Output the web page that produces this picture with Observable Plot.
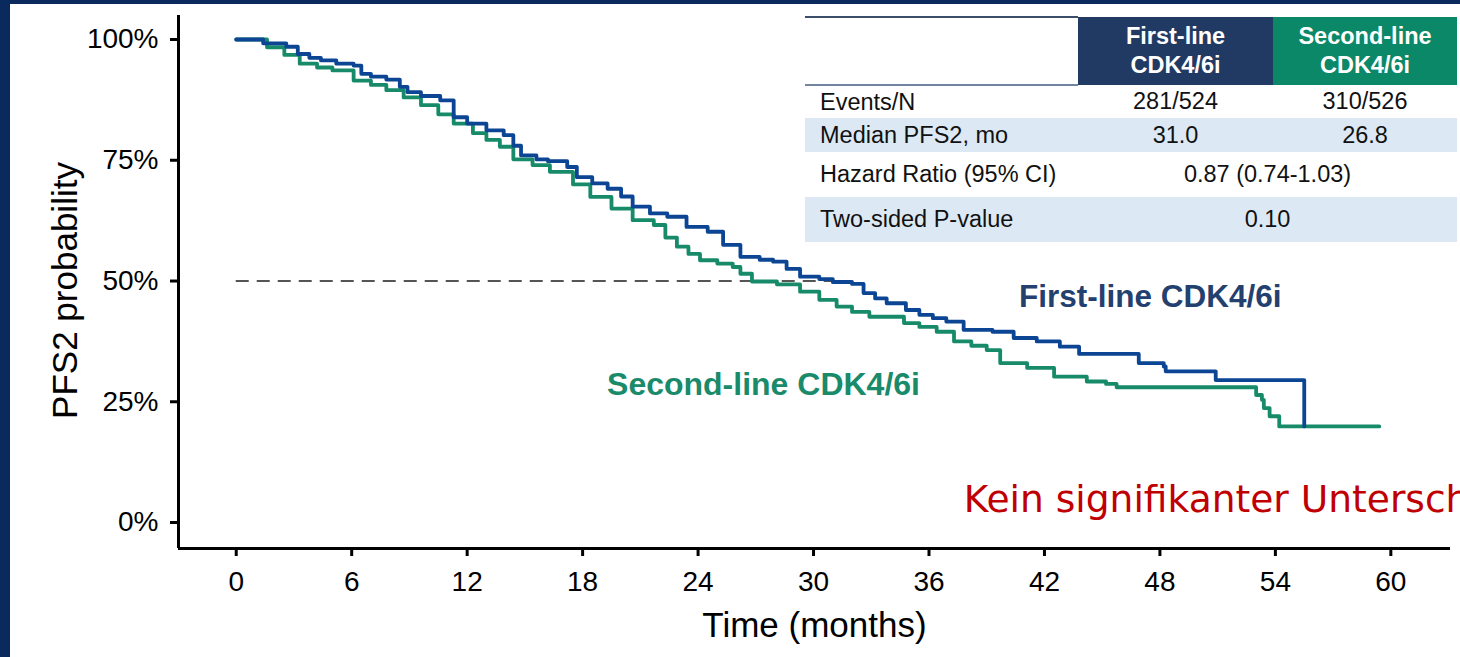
<!DOCTYPE html>
<html>
<head>
<meta charset="utf-8">
<script src="https://cdn.jsdelivr.net/npm/d3@7"></script>
<script src="https://cdn.jsdelivr.net/npm/@observablehq/plot@0.6"></script>
<style>
  html, body { margin: 0; padding: 0; width: 1460px; height: 657px; overflow: hidden; background: #0a2a5e; }
  #panel { position: absolute; left: 10px; top: 4px; width: 1450px; height: 653px; background: #fff; overflow: hidden; }
  #chart { position: absolute; left: 0; top: 0; }
  #tbl { position: absolute; left: 795px; top: 12px; border-collapse: collapse; table-layout: fixed;
         font-family: 'Liberation Sans', Arial, sans-serif; font-size: 23.5px; color: #111; }
  #tbl td, #tbl th { padding: 0; }
  #tbl th { color: #fff; font-weight: bold; font-size: 23.5px; line-height: 29px; text-align: center; height: 66px; }
  #tbl th.blank { background: #fff; border-top: 2px solid #3c4e69; border-bottom: 2px solid #7385a0; }
  #tbl th.c1 { background: #213a64; }
  #tbl th.c2 { background: #0b8868; }
  #tbl td.lab { padding-left: 15px; text-align: left; }
  #tbl td.val { text-align: center; }
  #tbl tr.shade td { background: #dce9f5; }
</style>
</head>
<body>
<div id="panel">
  <div id="chart"></div>
  <table id="tbl"></table>
</div>
<script>
// ---- data ----
const xTicks = [0, 6, 12, 18, 24, 30, 36, 42, 48, 54, 60];
const yTicks = [0, 25, 50, 75, 100];

const firstLineT = [0, 1.4, 2.6, 3.2, 3.8, 4.4, 5.2, 6.1, 6.5, 7.0, 7.8, 8.5, 8.9, 9.6, 10.6, 11.3, 12.0, 13.0, 13.9, 14.4, 14.8, 15.6, 16.2, 17.2, 17.7, 18.5, 19.3, 20.0, 20.6, 21.5, 22.4, 23.4, 24.5, 25.3, 26.2, 27.2, 27.9, 28.6, 29.3, 30.3, 31.0, 32.0, 32.6, 33.2, 33.8, 34.8, 35.5, 36.2, 36.9, 37.8, 39.3, 40.4, 41.6, 42.8, 43.8, 46.9, 48.2, 48.3, 50.9, 55.5, 55.5];
const firstLineS = [100, 99.2, 98.5, 97.0, 96.2, 95.7, 95.0, 94.6, 92.9, 92.3, 91.7, 90.2, 89.1, 88.3, 87.4, 83.9, 82.6, 81.2, 80.2, 78.0, 76.0, 75.2, 74.8, 73.6, 71.5, 70.2, 69.1, 67.5, 65.4, 64.0, 63.3, 61.2, 60.2, 57.5, 55.0, 54.4, 54.0, 52.5, 50.9, 50.4, 49.8, 49.4, 47.5, 46.4, 45.4, 44.0, 43.0, 42.3, 41.6, 39.9, 39.5, 38.2, 37.5, 36.4, 34.9, 33.0, 32.3, 31.3, 29.5, 29.5, 19.9];

const secondLineT = [0, 1.6, 2.5, 3.3, 4.2, 5.0, 6.1, 7.0, 7.8, 8.7, 9.6, 10.5, 11.3, 12.3, 13.0, 13.7, 14.4, 15.4, 16.3, 17.5, 18.4, 19.5, 20.6, 21.7, 22.3, 22.9, 23.5, 24.1, 25.0, 25.8, 26.2, 26.8, 28.1, 29.3, 30.3, 31.2, 32.0, 32.9, 34.7, 35.5, 36.4, 37.3, 38.2, 39.0, 39.7, 41.1, 42.5, 44.2, 45.2, 45.75, 53.0, 53.3, 53.4, 53.7, 54.2, 59.4];
const secondLineS = [100, 98.4, 96.8, 95.0, 94.2, 93.6, 91.5, 90.6, 89.5, 88.0, 86.4, 84.5, 82.6, 80.6, 79.2, 77.8, 75.2, 74.0, 72.6, 70.0, 67.4, 65.0, 62.6, 61.6, 59.0, 57.1, 55.6, 54.3, 53.6, 52.9, 51.5, 49.9, 49.3, 47.8, 46.1, 44.7, 43.6, 42.6, 41.3, 40.5, 39.5, 37.5, 36.6, 35.7, 33.0, 32.0, 30.2, 29.2, 28.7, 28.0, 26.4, 25.4, 23.7, 22.0, 19.9, 19.9];

const seriesNames = ["First-line CDK4/6i", "Second-line CDK4/6i"];
const medianLevel = 50;
const medianEnd = 31.0;

const tableHeader = [["First-line", "CDK4/6i"], ["Second-line", "CDK4/6i"]];
const tableRows = [
  ["Events/N", "281/524", "310/526"],
  ["Median PFS2, mo", "31.0", "26.8"],
  ["Hazard Ratio (95% CI)", "0.87 (0.74-1.03)"],
  ["Two-sided P-value", "0.10"]
];
const axisTitleX = "Time (months)";
const axisTitleY = "PFS2 probability";
const note = "Kein signifikanter Unterschied";

// ---- build ----
const blue = firstLineT.map((t, i) => ({t, s: firstLineS[i]}));
const green = secondLineT.map((t, i) => ({t, s: secondLineS[i]}));
const BLUE = "#0b4593", GREEN = "#178b69";
const xMin = -3, yMin = -5.38;

const chart = Plot.plot({
  width: 1450, height: 653,
  marginLeft: 168, marginRight: 10, marginTop: 11, marginBottom: 109,
  x: {domain: [xMin, 63.1]},
  y: {domain: [yMin, 104.97]},
  style: {fontFamily: "'Liberation Sans', Arial, sans-serif", color: "#000", background: "transparent", overflow: "visible"},
  marks: [
    Plot.axisY(yTicks, {tickSize: 8, tickPadding: 12, fontSize: 28, strokeWidth: 3, tickFormat: d => d + "%", label: null}),
    Plot.axisX(xTicks, {tickSize: 8, tickPadding: 15, fontSize: 28, strokeWidth: 3, tickFormat: d => String(d), label: null}),
    Plot.ruleX([xMin], {strokeWidth: 3, stroke: "#000"}),
    Plot.ruleY([yMin], {strokeWidth: 3, stroke: "#000"}),
    Plot.ruleY([medianLevel], {x1: 0, x2: medianEnd, stroke: "#555", strokeWidth: 2, strokeDasharray: "13,8"}),
    Plot.line(green, {x: "t", y: "s", curve: "step-after", stroke: GREEN, strokeWidth: 3.8}),
    Plot.line(blue, {x: "t", y: "s", curve: "step-after", stroke: BLUE, strokeWidth: 3.8}),
    Plot.text([seriesNames[0]], {text: d => d, x: 47.5, y: 46.7, fontSize: 31.5, fontWeight: "bold", fill: "#23406e"}),
    Plot.text([seriesNames[1]], {text: d => d, x: 27.4, y: 28.5, fontSize: 32, fontWeight: "bold", fill: "#198a6a"}),
    Plot.text([note], {text: d => d, x: 37.8, y: 4.6, textAnchor: "start", fontSize: 37.6, fill: "#c00000", fontFamily: "'DejaVu Sans', sans-serif"}),
    Plot.text([axisTitleX], {text: d => d, frameAnchor: "bottom", lineAnchor: "middle", textAnchor: "middle", dy: 77, fontSize: 35}),
    Plot.text([axisTitleY], {text: d => d, frameAnchor: "left", lineAnchor: "middle", textAnchor: "middle", dx: -113, dy: 8.5, rotate: -90, fontSize: 35})
  ]
});
document.getElementById("chart").appendChild(chart);

// table
const tbl = document.getElementById("tbl");
const cg = document.createElement("colgroup");
[273, 195, 184].forEach(w => { const c = document.createElement("col"); c.style.width = w + "px"; cg.appendChild(c); });
tbl.appendChild(cg);
const hr = document.createElement("tr");
const blank = document.createElement("th"); blank.className = "blank"; hr.appendChild(blank);
tableHeader.forEach((lines, i) => {
  const th = document.createElement("th");
  th.className = i === 0 ? "c1" : "c2";
  th.innerHTML = lines.join("<br>");
  hr.appendChild(th);
});
tbl.appendChild(hr);
const rowHeights = [33, 34, 45, 45];
tableRows.forEach((r, i) => {
  const tr = document.createElement("tr");
  if (i % 2 === 1) tr.className = "shade";
  tr.style.height = rowHeights[i] + "px";
  const l = document.createElement("td"); l.className = "lab"; l.textContent = r[0]; tr.appendChild(l);
  if (r.length === 3) {
    [r[1], r[2]].forEach(v => { const td = document.createElement("td"); td.className = "val"; td.textContent = v; tr.appendChild(td); });
  } else {
    const td = document.createElement("td"); td.className = "val"; td.colSpan = 2; td.textContent = r[1]; tr.appendChild(td);
  }
  tbl.appendChild(tr);
});
</script>
</body>
</html>
